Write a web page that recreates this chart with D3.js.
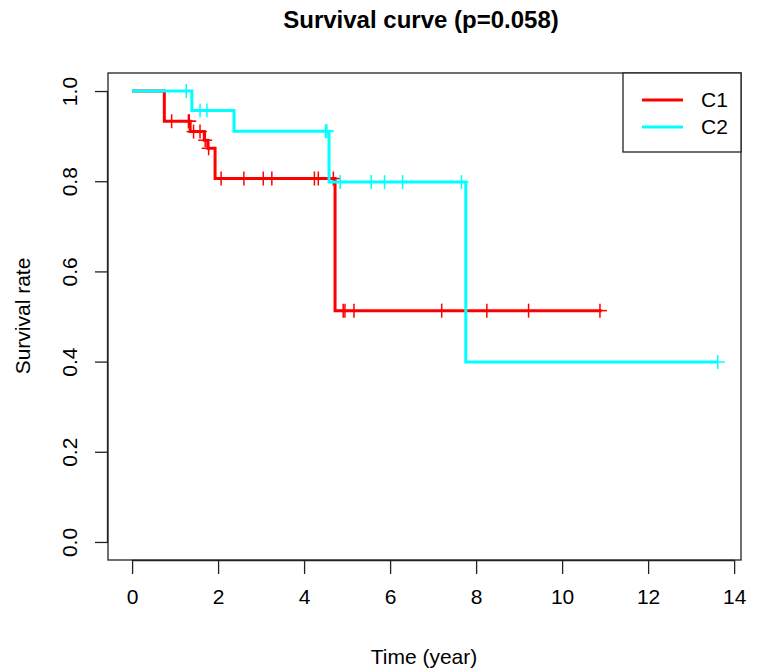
<!DOCTYPE html>
<html>
<head>
<meta charset="utf-8">
<script src="https://cdn.jsdelivr.net/npm/d3@7"></script>
<style>
  body { margin: 0; background: #fff; }
  svg { display: block; font-family: "Liberation Sans", Arial, sans-serif; }
</style>
</head>
<body>
<svg id="chart" width="757" height="672"></svg>
<script>
// ---- data ----
const groups = ["C1", "C2"];
const colors = ["#FF0000", "#00FFFF"];
// step points (time, survival) for each group
const c1Time = [0, 0.75, 1.35, 1.68, 1.76, 1.93, 4.72, 10.92];
const c1Surv = [1.0, 0.933, 0.910, 0.891, 0.873, 0.806, 0.513, 0.513];
const c1Censor = [0.92, 1.31, 1.33, 1.43, 1.58, 1.70, 1.78, 2.07, 2.60, 3.05, 3.25, 4.24, 4.33, 4.68, 4.91, 4.95, 5.16, 7.20, 8.25, 9.22, 10.88];
const c2Time = [0, 1.39, 2.37, 4.58, 7.76, 13.62];
const c2Surv = [1.0, 0.957, 0.911, 0.798, 0.399, 0.399];
const c2Censor = [1.26, 1.58, 1.74, 4.50, 4.53, 4.84, 5.56, 5.87, 6.29, 7.66, 13.62];
const xTicks = [0, 2, 4, 6, 8, 10, 12, 14];
const yTicks = [0.0, 0.2, 0.4, 0.6, 0.8, 1.0];
const title = "Survival curve (p=0.058)";
const xLabel = "Time (year)";
const yLabel = "Survival rate";

// ---- layout ----
const svg = d3.select("#chart");
const box = { left: 108, right: 741, top: 73, bottom: 560 };
const x = d3.scaleLinear().domain([-0.56, 14.16]).range([box.left, box.right]);
const y = d3.scaleLinear().domain([-0.04, 1.04]).range([box.bottom, box.top]);
const FS = 21;

const series = [
  { name: groups[0], color: colors[0], t: c1Time, s: c1Surv, c: c1Censor },
  { name: groups[1], color: colors[1], t: c2Time, s: c2Surv, c: c2Censor }
];

function survAt(d, time) {
  let v = d.s[0];
  for (let i = 0; i < d.t.length; i++) if (d.t[i] <= time) v = d.s[i];
  return v;
}

// curves
const line = d3.line().x(p => x(p[0])).y(p => y(p[1])).curve(d3.curveStepAfter);
series.forEach(d => {
  const pts = d.t.map((t, i) => [t, d.s[i]]);
  svg.append("path").attr("d", line(pts)).attr("fill", "none")
    .attr("stroke", d.color).attr("stroke-width", 3);
  svg.append("g").selectAll("line").data(d.c).join("line")
    .attr("x1", t => x(t)).attr("x2", t => x(t))
    .attr("y1", t => y(survAt(d, t)) - 7).attr("y2", t => y(survAt(d, t)) + 7)
    .attr("stroke", d.color).attr("stroke-width", 1.5);
  svg.append("g").selectAll("line").data(d.c).join("line")
    .attr("x1", t => x(t) - 7).attr("x2", t => x(t) + 7)
    .attr("y1", t => y(survAt(d, t))).attr("y2", t => y(survAt(d, t)))
    .attr("stroke", d.color).attr("stroke-width", 1.5);
});

// box
svg.append("rect").attr("x", box.left).attr("y", box.top)
  .attr("width", box.right - box.left).attr("height", box.bottom - box.top)
  .attr("fill", "none").attr("stroke", "#222").attr("stroke-width", 1.3);

// x axis
const xAxis = d3.axisBottom(x).tickValues(xTicks).tickSize(14).tickPadding(15).tickFormat(d3.format("d"));
const gx = svg.append("g").attr("transform", `translate(0,${box.bottom})`).call(xAxis);
gx.select(".domain").attr("d", `M${x(0)},0.5H${x(14)}`).attr("stroke", "#222").attr("stroke-width", 1.3);
gx.selectAll(".tick line").attr("stroke", "#222").attr("stroke-width", 1.3);
gx.selectAll(".tick text").attr("font-size", FS).attr("fill", "#000")
  .attr("font-family", "Liberation Sans, Arial, sans-serif");

// y axis
const yAxis = d3.axisLeft(y).tickValues(yTicks).tickSize(13).tickPadding(0).tickFormat(d3.format(".1f"));
const gy = svg.append("g").attr("transform", `translate(${box.left},0)`).call(yAxis);
gy.select(".domain").attr("d", `M-0.5,${y(0)}V${y(1)}`).attr("stroke", "#222").attr("stroke-width", 1.3);
gy.selectAll(".tick line").attr("stroke", "#222").attr("stroke-width", 1.3);
gy.selectAll(".tick text").attr("font-size", FS).attr("fill", "#000")
  .attr("font-family", "Liberation Sans, Arial, sans-serif")
  .attr("x", null).attr("dy", null)
  .attr("text-anchor", "middle")
  .attr("transform", "translate(-31,0) rotate(-90)");

// title and labels
svg.append("text").attr("x", 421).attr("y", 28).attr("text-anchor", "middle")
  .attr("font-size", 24).attr("font-weight", "bold").text(title);
svg.append("text").attr("x", 424).attr("y", 664).attr("text-anchor", "middle")
  .attr("font-size", FS).text(xLabel);
svg.append("text").attr("transform", "translate(30,316) rotate(-90)").attr("text-anchor", "middle")
  .attr("font-size", FS).text(yLabel);

// legend
const lg = svg.append("g");
lg.append("rect").attr("x", 623).attr("y", 73).attr("width", 118).attr("height", 79)
  .attr("fill", "#fff").attr("stroke", "#222").attr("stroke-width", 1.3);
series.forEach((d, i) => {
  const yy = 100 + i * 27;
  lg.append("line").attr("x1", 642).attr("x2", 683).attr("y1", yy).attr("y2", yy)
    .attr("stroke", d.color).attr("stroke-width", 3);
  lg.append("text").attr("x", 701).attr("y", yy + 7).attr("font-size", FS).text(d.name);
});
</script>
</body>
</html>
